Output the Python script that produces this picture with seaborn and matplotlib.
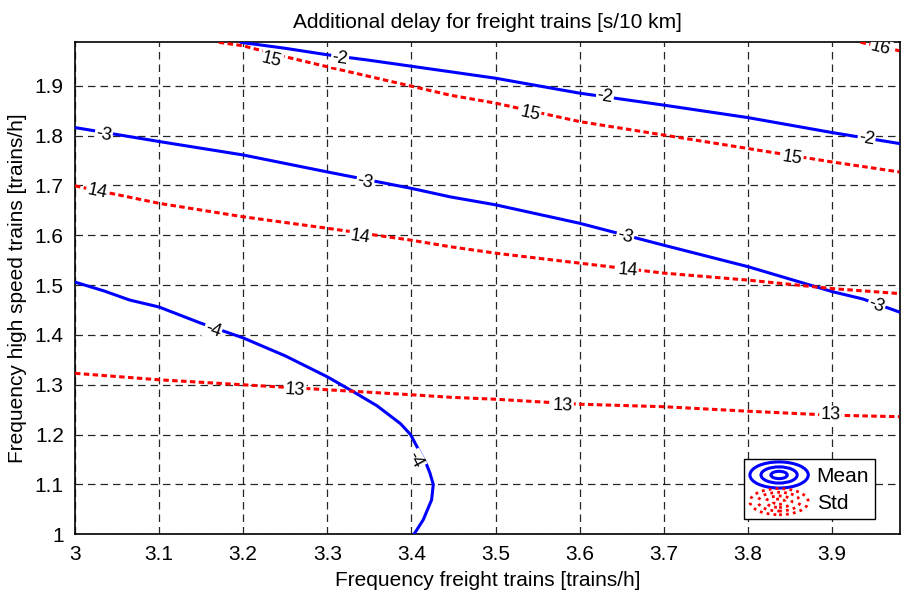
import numpy as np
import matplotlib
matplotlib.use("Agg")
import matplotlib.pyplot as plt
import seaborn as sns
from matplotlib.legend_handler import HandlerBase
from matplotlib.patches import Ellipse
from matplotlib.lines import Line2D

# ---- data (contour line vertices) ----
mean_m2_x = [3.197, 3.25, 3.30, 3.35, 3.40, 3.446, 3.50, 3.60, 3.70, 3.80, 3.90, 3.98]
mean_m2_y = [1.987, 1.975, 1.962, 1.951, 1.939, 1.928, 1.915, 1.885, 1.861, 1.836, 1.806, 1.784]

mean_m3_x = [3.00, 3.10, 3.20, 3.30, 3.40, 3.446, 3.50, 3.60, 3.70, 3.80, 3.90, 3.937, 3.98]
mean_m3_y = [1.816, 1.788, 1.761, 1.727, 1.694, 1.677, 1.661, 1.624, 1.580, 1.537, 1.487, 1.472, 1.446]

mean_m4_x = [3.00, 3.035, 3.065, 3.10, 3.149, 3.20, 3.25, 3.30, 3.331, 3.359, 3.387, 3.399, 3.41, 3.418, 3.422, 3.426, 3.424, 3.414, 3.403]
mean_m4_y = [1.506, 1.488, 1.470, 1.456, 1.424, 1.394, 1.358, 1.316, 1.286, 1.258, 1.222, 1.200, 1.165, 1.140, 1.123, 1.100, 1.069, 1.029, 1.000]

std_13_x = [3.00, 3.10, 3.20, 3.30, 3.40, 3.446, 3.50, 3.60, 3.70, 3.80, 3.90, 3.98]
std_13_y = [1.323, 1.310, 1.300, 1.290, 1.280, 1.275, 1.271, 1.261, 1.256, 1.247, 1.239, 1.236]

std_14_x = [3.00, 3.10, 3.20, 3.30, 3.40, 3.446, 3.50, 3.60, 3.70, 3.80, 3.90, 3.98]
std_14_y = [1.699, 1.664, 1.637, 1.614, 1.590, 1.577, 1.564, 1.544, 1.524, 1.510, 1.493, 1.483]

std_15_x = [3.171, 3.20, 3.25, 3.30, 3.40, 3.446, 3.50, 3.60, 3.70, 3.80, 3.90, 3.98]
std_15_y = [1.987, 1.980, 1.958, 1.938, 1.899, 1.881, 1.865, 1.828, 1.801, 1.774, 1.747, 1.727]

std_16_x = [3.934, 3.96, 3.98]
std_16_y = [1.987, 1.978, 1.970]

# contour label positions and texts
mean_label_x = [3.315, 3.630, 3.941, 3.034, 3.345, 3.654, 3.953, 3.164, 3.404]
mean_label_y = [1.955, 1.877, 1.793, 1.801, 1.707, 1.597, 1.460, 1.410, 1.149]
mean_label_t = ["-2", "-2", "-2", "-3", "-3", "-3", "-3", "-4", "-4"]
mean_label_line = [0, 0, 0, 1, 1, 1, 1, 2, 2]

std_label_x = [3.234, 3.541, 3.853, 3.026, 3.339, 3.657, 3.262, 3.580, 3.898, 3.958]
std_label_y = [1.951, 1.844, 1.755, 1.687, 1.597, 1.530, 1.290, 1.258, 1.239, 1.975]
std_label_t = ["15", "15", "15", "14", "14", "14", "13", "13", "13", "16"]
std_label_line = [2, 2, 2, 1, 1, 1, 0, 0, 0, 3]

xticks = [3.0, 3.1, 3.2, 3.3, 3.4, 3.5, 3.6, 3.7, 3.8, 3.9]
xticklabels = ["3", "3.1", "3.2", "3.3", "3.4", "3.5", "3.6", "3.7", "3.8", "3.9"]
yticks = [1.0, 1.1, 1.2, 1.3, 1.4, 1.5, 1.6, 1.7, 1.8, 1.9]
yticklabels = ["1", "1.1", "1.2", "1.3", "1.4", "1.5", "1.6", "1.7", "1.8", "1.9"]

# ---- styling ----
sns.set_style("white")
plt.rcParams["font.family"] = ["Liberation Sans", "DejaVu Sans"]
plt.rcParams["text.color"] = "black"
plt.rcParams["axes.labelcolor"] = "black"

BLUE = "#0000ff"
RED = "#ff0000"
FS = 15

fig = plt.figure(figsize=(9.01, 5.91), dpi=100)
ax = fig.add_axes([0.0832, 0.0959, 0.9158, 0.8325])
ax.set_xlim(3.0, 3.981)
ax.set_ylim(1.0, 1.987)

mean_lines = [(mean_m2_x, mean_m2_y), (mean_m3_x, mean_m3_y), (mean_m4_x, mean_m4_y)]
std_lines = [(std_13_x, std_13_y), (std_14_x, std_14_y), (std_15_x, std_15_y), (std_16_x, std_16_y)]

for lx, ly in mean_lines:
    sns.lineplot(x=lx, y=ly, sort=False, estimator=None, ax=ax, color=BLUE, lw=2.2, zorder=3)
for lx, ly in std_lines:
    l = sns.lineplot(x=lx, y=ly, sort=False, estimator=None, ax=ax, color=RED, lw=2.2, zorder=3)
    l.lines[-1].set_linestyle((0, (1.8, 1.1)))

ax.set_xticks(xticks)
ax.set_xticklabels(xticklabels)
ax.set_yticks(yticks)
ax.set_yticklabels(yticklabels)
ax.tick_params(axis="both", labelsize=FS, length=0, pad=8, colors="black")
ax.grid(True, color="black", linestyle=(0, (6, 4)), linewidth=0.9, alpha=0.85)
ax.set_axisbelow(True)
for s in ax.spines.values():
    s.set_color("black")
    s.set_linewidth(1.2)

ax.set_title("Additional delay for freight trains [s/10 km]", fontsize=FS, pad=10, color="black")
ax.set_xlabel("Frequency freight trains [trains/h]", fontsize=FS, labelpad=5, color="black")
ax.set_ylabel("Frequency high speed trains [trains/h]", fontsize=FS, labelpad=6, color="black")

fig.canvas.draw()

def label_angle(lx, ly, x0, y0):
    pts = ax.transData.transform(np.column_stack([lx, ly]))
    p0 = ax.transData.transform((x0, y0))
    d = np.hypot(pts[:, 0] - p0[0], pts[:, 1] - p0[1])
    i = int(np.argmin(d))
    j = i + 1 if i + 1 < len(pts) else i - 1
    a, b = (pts[i], pts[j]) if j > i else (pts[j], pts[i])
    ang = np.degrees(np.arctan2(b[1] - a[1], b[0] - a[0]))
    if ang > 90:
        ang -= 180
    if ang < -90:
        ang += 180
    return ang

for x0, y0, t, li in zip(mean_label_x, mean_label_y, mean_label_t, mean_label_line):
    lx, ly = mean_lines[li]
    ang = label_angle(lx, ly, x0, y0)
    ax.text(x0, y0, t, rotation=ang, rotation_mode="anchor", ha="center", va="center",
            fontsize=13, color="black", zorder=5, clip_on=True,
            bbox=dict(facecolor="white", edgecolor="none", pad=0.8))
for x0, y0, t, li in zip(std_label_x, std_label_y, std_label_t, std_label_line):
    lx, ly = std_lines[li]
    ang = label_angle(lx, ly, x0, y0)
    ax.text(x0, y0, t, rotation=ang, rotation_mode="anchor", ha="center", va="center",
            fontsize=13, color="black", zorder=5, clip_on=True,
            bbox=dict(facecolor="white", edgecolor="none", pad=0.8))


class HandlerEllipses(HandlerBase):
    def __init__(self, color, style, lw):
        super().__init__()
        self.color = color
        self.style = style
        self.lw = lw

    def create_artists(self, legend, orig_handle, xdescent, ydescent, width, height, fontsize, trans):
        cx = width / 2 - xdescent
        cy = height / 2 - ydescent
        arts = []
        scales = [1.0, 0.72, 0.44, 0.2] if self.style != "-" else [1.0, 0.62, 0.28]
        for s in scales:
            e = Ellipse((cx, cy), width * s, height * 1.4 * s, fill=False,
                        edgecolor=self.color, linestyle=self.style, lw=self.lw, transform=trans)
            arts.append(e)
        return arts


h_mean = Line2D([], [], color=BLUE)
h_std = Line2D([], [], color=RED)
leg = ax.legend([h_mean, h_std], ["Mean", "Std"],
                handler_map={h_mean: HandlerEllipses(BLUE, "-", 2.2),
                             h_std: HandlerEllipses(RED, (0, (1, 1.5)), 2.0)},
                loc="lower right", bbox_to_anchor=(0.970, 0.031), borderaxespad=0,
                fontsize=FS, frameon=True, fancybox=False, handlelength=2.8,
                handleheight=1.0, handletextpad=0.4, labelspacing=0.3,
                borderpad=0.3)
leg.get_frame().set_edgecolor("black")
leg.get_frame().set_linewidth(1.0)
leg.get_frame().set_alpha(1.0)
leg.set_zorder(10)

fig.savefig("out.png", dpi=100)
